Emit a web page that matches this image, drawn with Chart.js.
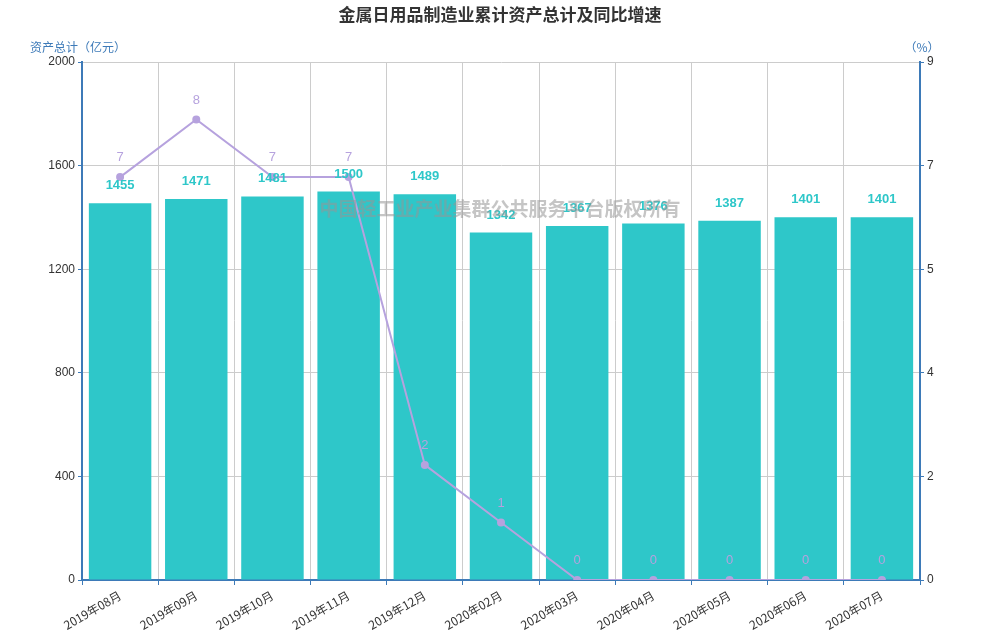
<!DOCTYPE html>
<html>
<head>
<meta charset="utf-8">
<script src="https://cdn.jsdelivr.net/npm/chart.js@4"></script>
<style>
  body { margin: 0; background: #fff; }
</style>
</head>
<body>
<canvas id="chart" width="1000" height="640"></canvas>
<script>
var months = ['2019年08月', '2019年09月', '2019年10月', '2019年11月', '2019年12月', '2020年02月',
    '2020年03月', '2020年04月', '2020年05月', '2020年06月', '2020年07月'];
var assets = [1455, 1471, 1481, 1500, 1489, 1342, 1367, 1376, 1387, 1401, 1401];
var growth = [7, 8, 7, 7, 2, 1, 0, 0, 0, 0, 0];

var FONT = '"Noto Sans CJK SC", "Noto Sans", sans-serif';
var AXIS = '#3d7ab8';

var overlay = {
    id: 'overlay',
    afterDatasetsDraw: function (chart) {
        var ctx = chart.ctx;
        var area = chart.chartArea;
        ctx.save();
        ctx.textAlign = 'center';
        ctx.textBaseline = 'bottom';

        ctx.font = 'bold 13px Arial, sans-serif';
        ctx.fillStyle = '#2ec7c9';
        chart.getDatasetMeta(0).data.forEach(function (bar, i) {
            ctx.fillText(assets[i], bar.x, bar.y - 11);
        });

        ctx.font = '13px Arial, sans-serif';
        ctx.fillStyle = '#b6a2de';
        chart.getDatasetMeta(1).data.forEach(function (pt, i) {
            ctx.fillText(growth[i], pt.x, pt.y - 13);
        });

        // watermark
        ctx.font = 'bold 19px ' + FONT;
        ctx.fillStyle = 'rgba(150,150,150,0.55)';
        ctx.textBaseline = 'middle';
        ctx.fillText('中国轻工业产业集群公共服务平台版权所有', 500, 209);

        // title
        ctx.font = 'bold 17px ' + FONT;
        ctx.fillStyle = '#333';
        ctx.fillText('金属日用品制造业累计资产总计及同比增速', 500, 15);

        // axis names
        ctx.font = '12px ' + FONT;
        ctx.fillStyle = AXIS;
        ctx.fillText('资产总计（亿元）', area.left - 4, 47);
        ctx.fillText('（%）', area.right + 2, 47);
        ctx.restore();
    }
};

new Chart(document.getElementById('chart'), {
    type: 'bar',
    data: {
        labels: months,
        datasets: [{
            type: 'bar',
            data: assets,
            backgroundColor: '#2ec7c9',
            barPercentage: 0.82,
            categoryPercentage: 1,
            yAxisID: 'y',
            order: 2
        }, {
            type: 'line',
            data: growth,
            borderColor: '#b6a2de',
            backgroundColor: '#b6a2de',
            borderWidth: 2,
            pointRadius: 3,
            tension: 0,
            yAxisID: 'y1',
            order: 1
        }]
    },
    plugins: [overlay],
    options: {
        responsive: false,
        animation: false,
        devicePixelRatio: 1,
        layout: { padding: { top: 62, left: 0, right: 0, bottom: 0 } },
        plugins: { legend: { display: false }, tooltip: { enabled: false } },
        scales: {
            x: {
                grid: { color: '#ccc', offset: true, drawTicks: true, tickColor: AXIS, tickLength: 5 },
                border: { color: AXIS, width: 2 },
                ticks: { color: '#333', font: { size: 12, family: FONT }, maxRotation: 30, minRotation: 30, autoSkip: false },
                afterFit: function (s) { s.height = 60; }
            },
            y: {
                position: 'left',
                min: 0, max: 2000,
                ticks: { stepSize: 400, color: '#333', font: { size: 12, family: 'Arial' },
                    callback: function (v) { return v; } },
                grid: { color: '#ccc', tickLength: 4, tickColor: AXIS },
                border: { color: AXIS, width: 2 },
                afterFit: function (s) { s.width = 82; }
            },
            y1: {
                position: 'right',
                min: 0, max: 9,
                ticks: {
                    stepSize: 1.8, color: '#333', font: { size: 12, family: 'Arial' },
                    callback: function (v) { return Math.round(v); }
                },
                grid: { drawOnChartArea: false, tickLength: 4, tickColor: AXIS },
                border: { color: AXIS, width: 2 },
                afterFit: function (s) { s.width = 80; }
            }
        }
    }
});
</script>
</body>
</html>
